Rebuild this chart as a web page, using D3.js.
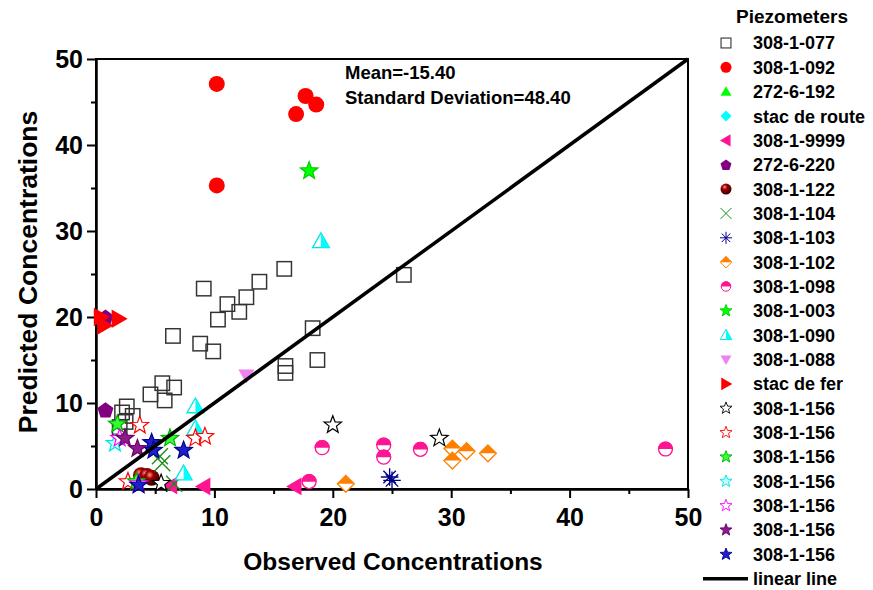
<!DOCTYPE html>
<html>
<head>
<meta charset="utf-8">
<script src="https://cdn.jsdelivr.net/npm/d3@7"></script>
<style>
  body { margin: 0; background: #fff; }
  text { font-family: "Liberation Sans", Arial, sans-serif; font-weight: bold; fill: #000; }
</style>
</head>
<body>
<svg id="chart" width="873" height="590"></svg>
<script>
// Axis ticks
const xTicks = [0, 10, 20, 30, 40, 50];
const yTicks = [0, 10, 20, 30, 40, 50];
const minorTicks = [5, 15, 25, 35, 45];

// [observed, predicted] pairs for each piezometer
const p077 = [[15.9,25.6],[26.0,24.9],[13.8,24.1],[12.7,22.3],[11.1,21.5],[12.1,20.6],[9.1,23.3],[10.3,19.7],
              [6.5,17.8],[8.8,16.9],[9.9,16.0],[18.3,18.7],[18.7,15.0],[16.0,14.3],[16.0,13.5],[5.6,12.3],
              [6.6,11.8],[4.6,11.0],[5.8,10.3],[2.6,9.6],[3.1,8.5],[2.2,8.9],[2.5,7.8],[2.0,7.2]];
const p092 = [[10.2,47.1],[10.2,35.3],[17.7,45.7],[18.6,44.7],[16.9,43.6]];
const p192 = [];
const pRoute = [];
const p9999 = [[6.3,0.4],[9.1,0.3],[16.8,0.3]];
const p220 = [[0.8,9.2],[0.8,20.0]];
const p122 = [[3.8,1.6],[4.3,1.5],[4.7,1.3]];
const p104 = [[5.4,3.8],[5.6,3.0],[6.6,0.6]];
const p103 = [[24.8,1.4],[25.0,1.0]];
const p102 = [[21.1,0.6],[30.1,4.7],[30.1,3.3],[31.3,4.4],[33.1,4.15]];
const p098 = [[19.1,4.8],[24.3,5.1],[24.3,3.7],[27.4,4.6],[18.0,0.85],[48.1,4.65]];
const p003 = [[18.0,37.0]];
const p090 = [[19.0,28.8],[8.4,9.6],[8.4,7.05],[7.4,1.8]];
const p088 = [[12.7,13.2]];
const pFer = [[0.4,20.0],[0.7,19.0],[1.9,19.8]];
const s156k = [[20.0,7.45],[29.0,5.9],[5.5,0.65]];
const s156r = [[3.7,7.4],[8.4,5.9],[9.2,6.1],[2.7,0.85]];
const s156g = [[1.8,7.55],[6.25,5.9],[3.4,0.85]];
const s156c = [[1.6,5.3]];
const s156m = [[2.0,5.9],[3.6,0.6]];
const s156p = [[2.45,5.9],[3.5,4.7]];
const s156n = [[4.7,5.4],[4.85,4.5],[7.4,4.5],[3.6,0.45]];

const seriesNames = ["308-1-077","308-1-092","272-6-192","stac de route","308-1-9999","272-6-220","308-1-122",
  "308-1-104","308-1-103","308-1-102","308-1-098","308-1-003","308-1-090","308-1-088","stac de fer",
  "308-1-156","308-1-156","308-1-156","308-1-156","308-1-156","308-1-156","308-1-156"];
const seriesData = [p077,p092,p192,pRoute,p9999,p220,p122,p104,p103,p102,p098,p003,p090,p088,pFer,
  s156k,s156r,s156g,s156c,s156m,s156p,s156n];
const seriesStyle = [
  {kind:"square", fill:"none", stroke:"#333", k:0.9},
  {kind:"circle", fill:"#ff0000", stroke:"none", k:1},
  {kind:"triUp", fill:"#00ff00", stroke:"none", k:1},
  {kind:"diamond", fill:"#00ffff", stroke:"none", k:1},
  {kind:"triLeft", fill:"#ff1493", stroke:"none", k:1.1},
  {kind:"pentagon", fill:"#800080", stroke:"none", k:1.05},
  {kind:"sphere", fill:"#800000", stroke:"none", k:1},
  {kind:"cross", fill:"none", stroke:"#1a8a1a", k:1},
  {kind:"asterisk", fill:"none", stroke:"#00008b", k:1.1},
  {kind:"halfDiamond", fill:"#ff8000", stroke:"#ff8000", k:1.05},
  {kind:"halfCircle", fill:"#ff1493", stroke:"#ff1493", k:0.95},
  {kind:"star", fill:"#00ff00", stroke:"#00cc00", k:1},
  {kind:"halfTri", fill:"#00ffff", stroke:"#00e5e5", k:1.05},
  {kind:"triDown", fill:"#ee82ee", stroke:"none", k:1},
  {kind:"triRight", fill:"#ff0000", stroke:"none", k:1.15},
  {kind:"star", fill:"#fff", stroke:"#000", k:1},
  {kind:"star", fill:"#fff", stroke:"#ff0000", k:1},
  {kind:"star", fill:"#33ff33", stroke:"#00b000", k:1},
  {kind:"star", fill:"#bfffff", stroke:"#00e0e0", k:1},
  {kind:"star", fill:"#fff", stroke:"#ff00ff", k:1},
  {kind:"star", fill:"#8b1a8b", stroke:"#6a006a", k:1},
  {kind:"star", fill:"#2020c8", stroke:"#00008b", k:1}
];

const svg = d3.select("#chart");
const margin = {left: 96, top: 59, right: 688, bottom: 489};
const x = d3.scaleLinear().domain([0, 50]).range([margin.left, margin.right]);
const y = d3.scaleLinear().domain([0, 50]).range([margin.bottom, margin.top]);

const defs = svg.append("defs");
const grad = defs.append("radialGradient").attr("id", "sphereGrad")
  .attr("cx", "38%").attr("cy", "32%").attr("r", "65%");
grad.append("stop").attr("offset", "0%").attr("stop-color", "#ff9a8a");
grad.append("stop").attr("offset", "35%").attr("stop-color", "#a00000");
grad.append("stop").attr("offset", "100%").attr("stop-color", "#3a0000");

function starPath(r) {
  const pts = [];
  for (let i = 0; i < 10; i++) {
    const rr = i % 2 === 0 ? r : r * 0.42;
    const a = -Math.PI / 2 + i * Math.PI / 5;
    pts.push([rr * Math.cos(a), rr * Math.sin(a)]);
  }
  return "M" + pts.map(p => p.join(",")).join("L") + "Z";
}

// Draws one marker of the given style centred on the group origin; r is the half-size
function drawMarker(g, st, r0) {
  const r = r0 * st.k;
  const sw = Math.max(1, r0 / 6);
  switch (st.kind) {
    case "square":
      g.append("rect").attr("x", -r).attr("y", -r).attr("width", 2 * r).attr("height", 2 * r)
        .attr("fill", "none").attr("stroke", st.stroke).attr("stroke-width", sw * 1.1);
      break;
    case "circle":
      g.append("circle").attr("r", r).attr("fill", st.fill);
      break;
    case "sphere":
      g.append("circle").attr("r", r).attr("fill", "url(#sphereGrad)");
      break;
    case "triUp":
      g.append("path").attr("d", `M0,${-r}L${r},${r*0.75}L${-r},${r*0.75}Z`).attr("fill", st.fill);
      break;
    case "triDown":
      g.append("path").attr("d", `M0,${r}L${r},${-r*0.75}L${-r},${-r*0.75}Z`).attr("fill", st.fill);
      break;
    case "triLeft":
      g.append("path").attr("d", `M${-r},0L${r*0.75},${-r}L${r*0.75},${r}Z`).attr("fill", st.fill);
      break;
    case "triRight":
      g.append("path").attr("d", `M${r},0L${-r*0.75},${-r}L${-r*0.75},${r}Z`).attr("fill", st.fill);
      break;
    case "diamond":
      g.append("path").attr("d", `M0,${-r}L${r},0L0,${r}L${-r},0Z`).attr("fill", st.fill);
      break;
    case "pentagon": {
      const pts = d3.range(5).map(i => {
        const a = -Math.PI / 2 + i * 2 * Math.PI / 5;
        return [r * Math.cos(a), r * Math.sin(a) + r * 0.1];
      });
      g.append("path").attr("d", "M" + pts.map(p => p.join(",")).join("L") + "Z").attr("fill", st.fill);
      break;
    }
    case "cross":
      g.append("path").attr("d", `M${-r},${-r}L${r},${r}M${-r},${r}L${r},${-r}`)
        .attr("stroke", st.stroke).attr("stroke-width", sw).attr("fill", "none");
      break;
    case "asterisk": {
      let d = "";
      for (let i = 0; i < 4; i++) {
        const a = i * Math.PI / 4;
        d += `M${r*Math.cos(a)},${r*Math.sin(a)}L${-r*Math.cos(a)},${-r*Math.sin(a)}`;
      }
      g.append("path").attr("d", d).attr("stroke", st.stroke).attr("stroke-width", sw).attr("fill", "none");
      break;
    }
    case "halfDiamond":
      g.append("path").attr("d", `M0,${-r}L${r},0L0,${r}L${-r},0Z`).attr("fill", "#fff")
        .attr("stroke", st.stroke).attr("stroke-width", sw);
      g.append("path").attr("d", `M${-r},0L0,${-r}L${r},0Z`).attr("fill", st.fill);
      break;
    case "halfCircle":
      g.append("circle").attr("r", r - sw / 2).attr("fill", "#fff").attr("stroke", st.stroke).attr("stroke-width", sw);
      g.append("path").attr("d", `M${-r},0A${r},${r} 0 0 1 ${r},0Z`).attr("fill", st.fill);
      break;
    case "halfTri":
      g.append("path").attr("d", `M0,${-r}L${r},${r*0.75}L${-r},${r*0.75}Z`).attr("fill", "#fff")
        .attr("stroke", st.stroke).attr("stroke-width", sw).attr("stroke-linejoin", "miter");
      g.append("path").attr("d", `M0,${-r}L${r},${r*0.75}L0,${r*0.75}Z`).attr("fill", st.fill);
      break;
    case "star":
      g.append("path").attr("d", starPath(r * 1.15)).attr("fill", st.fill)
        .attr("stroke", st.stroke).attr("stroke-width", sw * 0.9).attr("stroke-linejoin", "miter");
      break;
  }
}

// Frame and axes
svg.append("rect").attr("x", margin.left).attr("y", margin.top)
  .attr("width", margin.right - margin.left).attr("height", margin.bottom - margin.top)
  .attr("fill", "none").attr("stroke", "#000").attr("stroke-width", 2);

const xAxis = svg.append("g").attr("transform", `translate(0,${margin.bottom})`)
  .call(d3.axisBottom(x).tickValues(xTicks).tickSize(9).tickSizeOuter(0).tickPadding(10).tickFormat(d3.format("d")));
const xMinor = svg.append("g").attr("transform", `translate(0,${margin.bottom})`)
  .call(d3.axisBottom(x).tickValues(minorTicks).tickSize(5).tickSizeOuter(0).tickFormat(""));
const yAxis = svg.append("g").attr("transform", `translate(${margin.left},0)`)
  .call(d3.axisLeft(y).tickValues(yTicks).tickSize(9).tickSizeOuter(0).tickPadding(4).tickFormat(d3.format("d")));
const yMinor = svg.append("g").attr("transform", `translate(${margin.left},0)`)
  .call(d3.axisLeft(y).tickValues(minorTicks).tickSize(5).tickSizeOuter(0).tickFormat(""));
[xAxis, xMinor, yAxis, yMinor].forEach(a => {
  a.selectAll("path.domain").attr("stroke", "#000").attr("stroke-width", 2);
  a.selectAll(".tick line").attr("stroke", "#000").attr("stroke-width", 2);
  a.selectAll(".tick text").style("font-family", "'Liberation Sans', Arial, sans-serif")
    .style("font-weight", "bold").style("font-size", "25px").attr("fill", "#000");
});

// Axis titles
svg.append("text").attr("x", (margin.left + margin.right) / 2 + 1).attr("y", 570)
  .attr("text-anchor", "middle").style("font-size", "24.5px").text("Observed Concentrations");
svg.append("text").attr("transform", `translate(37,${(margin.top + margin.bottom) / 2 - 2}) rotate(-90)`)
  .attr("text-anchor", "middle").style("font-size", "26.5px").text("Predicted Concentrations");

// Points
const plot = svg.append("g");
seriesData.forEach((pts, i) => {
  pts.forEach(p => {
    const g = plot.append("g").attr("transform", `translate(${x(p[0])},${y(p[1])})`);
    drawMarker(g, seriesStyle[i], 8);
  });
});

// 1:1 linear line
svg.append("line").attr("x1", x(0)).attr("y1", y(0)).attr("x2", x(50)).attr("y2", y(50))
  .attr("stroke", "#000").attr("stroke-width", 3.5);

// Statistics
svg.append("text").attr("x", 345).attr("y", 79).style("font-size", "18.5px").text("Mean=-15.40");
svg.append("text").attr("x", 345).attr("y", 104).style("font-size", "18.5px").text("Standard Deviation=48.40");

// Legend
const legend = svg.append("g");
legend.append("text").attr("x", 792).attr("y", 23).attr("text-anchor", "middle")
  .style("font-size", "19px").text("Piezometers");
const rowY = i => 43 + i * 24.35;
seriesNames.forEach((name, i) => {
  const g = legend.append("g").attr("transform", `translate(726,${rowY(i)})`);
  drawMarker(g, seriesStyle[i], 5.5);
  legend.append("text").attr("x", 753).attr("y", rowY(i)).attr("dy", "0.36em")
    .style("font-size", "18px").text(name);
});
const li = seriesNames.length;
legend.append("line").attr("x1", 703).attr("x2", 748).attr("y1", rowY(li)).attr("y2", rowY(li))
  .attr("stroke", "#000").attr("stroke-width", 3.5);
legend.append("text").attr("x", 753).attr("y", rowY(li)).attr("dy", "0.36em")
  .style("font-size", "18px").text("linear line");
</script>
</body>
</html>
